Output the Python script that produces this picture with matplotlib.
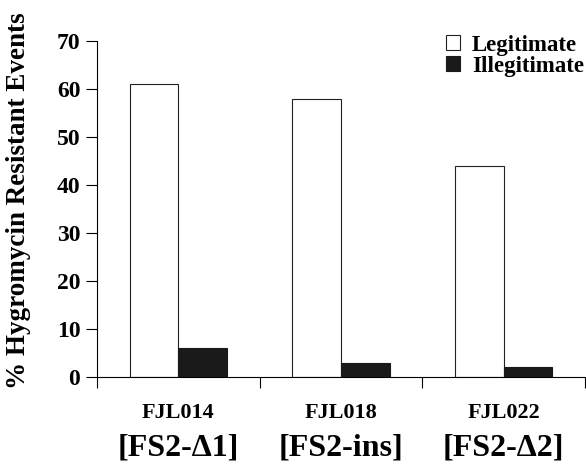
import matplotlib.pyplot as plt
import numpy as np
from matplotlib.transforms import blended_transform_factory

strains = ['FJL014', 'FJL018', 'FJL022']
constructs = ['[FS2-\u03941]', '[FS2-ins]', '[FS2-\u03942]']
legitimate = [61, 58, 44]
illegitimate = [6, 3, 2]

plt.rcParams['font.family'] = ['Liberation Serif', 'DejaVu Serif']

fig = plt.figure(figsize=(5.86, 4.67), dpi=100)
ax = fig.add_axes([0.1655, 0.1928, 0.8325, 0.7195])

x = np.arange(len(strains))
width = 0.3
ax.bar(x - width / 2, legitimate, width, color='white', edgecolor='#222222', linewidth=0.8, label='Legitimate')
ax.bar(x + width / 2, illegitimate, width, color='#1a1a1a', edgecolor='#1a1a1a', linewidth=0.8, label='Illegitimate')

ax.set_xlim(-0.5, len(strains) - 0.5)
ax.set_ylim(0, 70)
ax.set_yticks(range(0, 71, 10))
ax.set_xticks(np.arange(-0.5, len(strains), 1.0))
ax.set_xticklabels([])
ax.tick_params(axis='y', direction='out', length=8, width=0.8, labelsize=17, pad=4)
ax.tick_params(axis='x', direction='out', length=8, width=0.8)
for lab in ax.get_yticklabels():
    lab.set_fontweight('bold')
for s in ['top', 'right']:
    ax.spines[s].set_visible(False)
for s in ['left', 'bottom']:
    ax.spines[s].set_linewidth(0.8)

trans = blended_transform_factory(ax.transData, fig.transFigure)
for i in range(len(strains)):
    ax.text(x[i], 1 - 413 / 467, strains[i], transform=trans, ha='center', va='center',
            fontsize=16, fontweight='bold')
    ax.text(x[i], 1 - 448 / 467, constructs[i], transform=trans, ha='center', va='center',
            fontsize=23, fontweight='bold')

ax.set_ylabel('% Hygromycin Resistant Events', fontsize=19.5, fontweight='bold')
ax.yaxis.set_label_coords(31 / 586, 1 - 201 / 467, transform=fig.transFigure)

leg = ax.legend(loc='upper right', bbox_to_anchor=(1.04, 1.08), frameon=False,
                prop={'size': 16.5, 'weight': 'bold'}, handlelength=0.62, handleheight=0.62,
                handletextpad=0.5, labelspacing=0.0)

fig.savefig('out.png', dpi=100)
